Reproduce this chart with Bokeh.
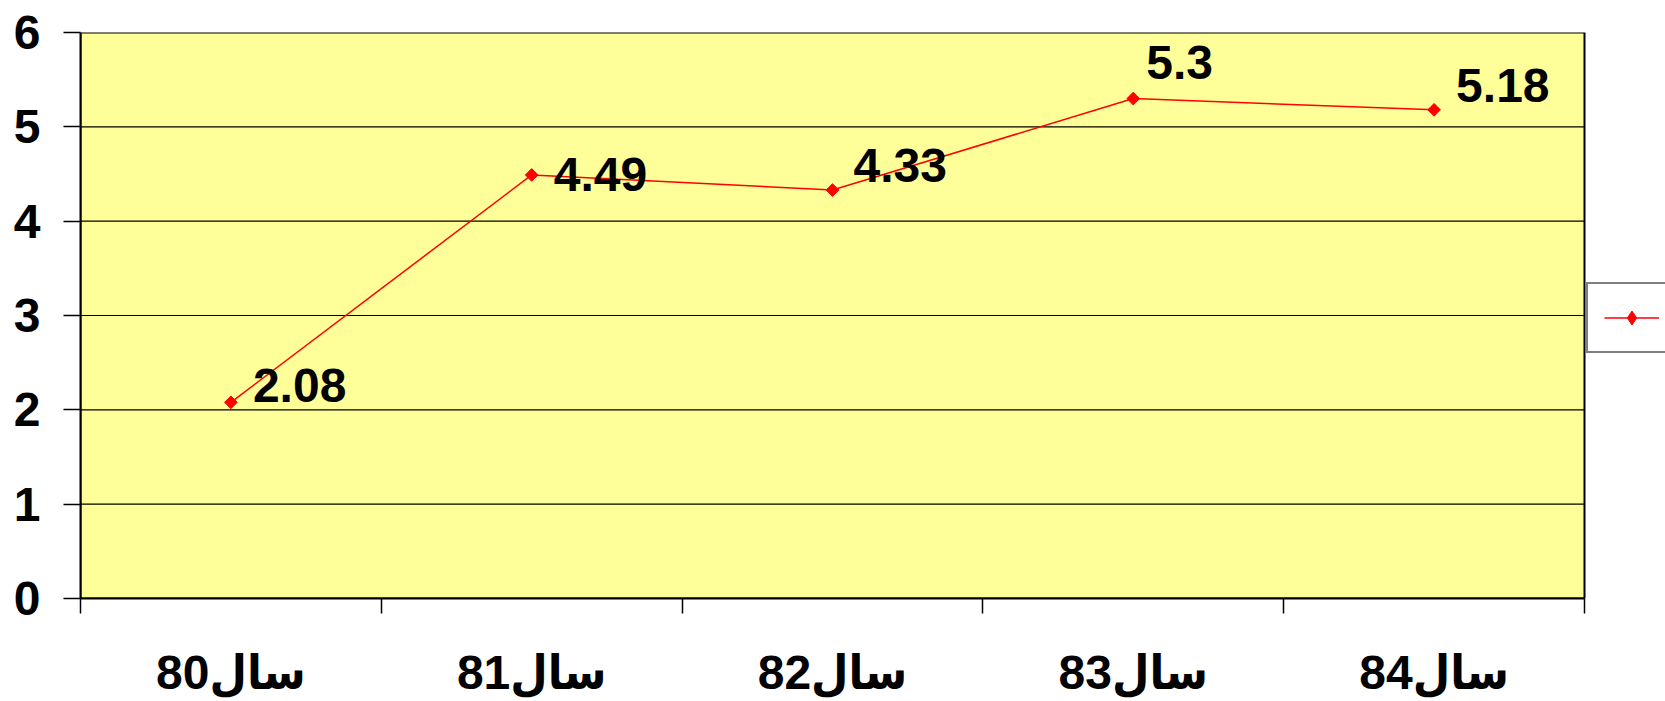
import numpy as np
from bokeh.plotting import figure
from bokeh.models import (ColumnDataSource, Range1d, FixedTicker, Legend, LegendItem)
from bokeh.core.properties import value
from bokeh.embed import file_html
from bokeh.resources import INLINE

# ---- data ----
categories = ["80سال", "81سال", "82سال", "83سال", "84سال"]
values = [2.08, 4.49, 4.33, 5.3, 5.18]
value_labels = ["2.08", "4.49", "4.33", "5.3", "5.18"]
y_ticks = [0, 1, 2, 3, 4, 5, 6]

# label placement (style, not data): pixel offsets from each point
label_dx = [22, 22, 21, 13, 22]
label_dy = [-17, 0, -25, -36, -24]

FONT_NAME = "Liberation Sans, DejaVu Sans Condensed, DejaVu Sans"
FONT = value(FONT_NAME)

n = len(categories)
W, H = 1665, 701
LEFT, TOP, BOTTOM = 80, 32, 101
PLOT_W = 1504                      # width of the yellow plotting area in px
FRAME_W = W - LEFT                 # frame runs to the right edge (room for legend)
x_end = n * FRAME_W / PLOT_W

xs = [i + 0.5 for i in range(n)]
src = ColumnDataSource(dict(x=xs, y=values, lab=value_labels, dx=label_dx, dy=label_dy))

p = figure(width=W, height=H, output_backend="svg", toolbar_location=None,
           x_range=Range1d(0, x_end), y_range=Range1d(0, 6),
           min_border_left=LEFT, min_border_right=0, min_border_top=TOP,
           min_border_bottom=BOTTOM)

p.background_fill_color = "white"
p.border_fill_color = "white"
p.outline_line_color = None
p.xgrid.visible = False
p.ygrid.visible = False

# yellow plotting area with black border
p.quad(left=0, right=n, bottom=0, top=6, fill_color="#FFFF99",
       line_color="black", line_width=2)

# horizontal grid lines across the plotting area only
grid_y = y_ticks[1:-1]
p.segment(x0=[0] * len(grid_y), x1=[n] * len(grid_y), y0=grid_y, y1=grid_y,
          line_color="black", line_width=1.2)

# y axis
p.yaxis.ticker = FixedTicker(ticks=y_ticks)
p.yaxis.axis_line_color = "black"
p.yaxis.axis_line_width = 2
p.yaxis.major_tick_in = 0
p.yaxis.major_tick_out = 17
p.yaxis.major_tick_line_width = 1.5
p.yaxis.minor_tick_line_color = None
p.yaxis.major_label_text_font = FONT_NAME
p.yaxis.major_label_text_font_style = "bold"
p.yaxis.major_label_text_font_size = "48px"
p.yaxis.major_label_text_color = "black"
p.yaxis.major_label_standoff = 23

# x axis: labels at category centres, ticks at category boundaries
p.xaxis.bounds = (0, n)
p.xaxis.ticker = FixedTicker(ticks=xs, minor_ticks=list(range(n + 1)))
p.xaxis.major_label_overrides = {x: c for x, c in zip(xs, categories)}
p.xaxis.axis_line_color = "black"
p.xaxis.axis_line_width = 2
p.xaxis.major_tick_in = 0
p.xaxis.major_tick_out = 0
p.xaxis.major_tick_line_color = None
p.xaxis.minor_tick_in = 0
p.xaxis.minor_tick_out = 15
p.xaxis.minor_tick_line_color = "black"
p.xaxis.minor_tick_line_width = 1.5
p.xaxis.major_label_text_font = FONT_NAME
p.xaxis.major_label_text_font_style = "bold"
p.xaxis.major_label_text_font_size = "48px"
p.xaxis.major_label_text_color = "black"
p.xaxis.major_label_standoff = 32

# series
ln = p.line("x", "y", source=src, line_color="#FF0000", line_width=1.5)
mk = p.scatter("x", "y", source=src, marker="square", angle=np.pi / 4, size=9,
               fill_color="#FF0000", line_color="#FF0000")

p.text("x", "y", text="lab", source=src, x_offset="dx", y_offset="dy",
       text_font=FONT, text_font_style="bold", text_font_size="48px",
       text_color="black", text_align="left", text_baseline="alphabetic")

# diamond marker shown only in the legend (same data, hidden in the plot)
leg_mk = p.scatter("x", "y", source=src, marker="diamond", size=16,
                   fill_color="#FF0000", line_color="#FF0000", visible=False)

legend = Legend(items=[LegendItem(label=" ", renderers=[ln, leg_mk])],
                location=(PLOT_W + 2, 245), orientation="vertical",
                padding=16, margin=0, spacing=0,
                glyph_width=55, glyph_height=35, label_standoff=5,
                label_text_font_size="10px",
                border_line_color="black", border_line_width=2,
                background_fill_color="white", background_fill_alpha=1)
p.add_layout(legend, "center")

open("out.html", "w").write(file_html(p, INLINE))
